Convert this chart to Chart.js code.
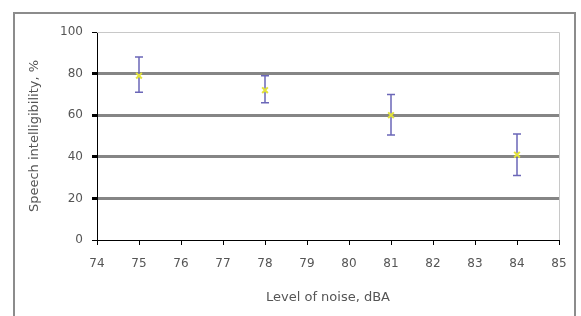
<!DOCTYPE html>
<html>
<head>
<meta charset="utf-8">
<script src="https://cdn.jsdelivr.net/npm/chart.js@4"></script>
<style>
  html, body { margin: 0; padding: 0; background: #fff; }
  #wrap { position: relative; width: 581px; height: 316px; overflow: hidden; }
  #frame { position: absolute; left: 13px; top: 12px; width: 559px; height: 330px; border: 2px solid #8c8c8c; pointer-events: none; }
</style>
</head>
<body>
<div id="wrap">
  <canvas id="c" width="581" height="316"></canvas>
  <div id="frame"></div>
</div>
<script>
const noiseLevels = [75, 78, 81, 84];
const intelligibility = [79, 72, 60, 41];
const errLow = [71, 66, 50.5, 31];
const errHigh = [88, 79, 70, 51];

const errorBars = {
  id: 'errorBars',
  beforeDatasetsDraw(chart) {
    const { ctx, scales: { x, y } } = chart;
    ctx.save();
    ctx.strokeStyle = '#6b67b8';
    ctx.lineWidth = 1.5;
    noiseLevels.forEach((lvl, i) => {
      const px = x.getPixelForValue(lvl);
      const top = y.getPixelForValue(errHigh[i]);
      const bot = y.getPixelForValue(errLow[i]);
      ctx.beginPath();
      ctx.moveTo(px, top); ctx.lineTo(px, bot);
      ctx.moveTo(px - 4, top); ctx.lineTo(px + 4, top);
      ctx.moveTo(px - 4, bot); ctx.lineTo(px + 4, bot);
      ctx.stroke();
    });
    ctx.restore();
  }
};

const plotBorder = {
  id: 'plotBorder',
  beforeDatasetsDraw(chart) {
    const { ctx, chartArea: a } = chart;
    ctx.save();
    ctx.strokeStyle = '#c8c8c8';
    ctx.lineWidth = 1;
    ctx.beginPath();
    ctx.moveTo(a.left, a.top + 0.5); ctx.lineTo(a.right + 0.5, a.top + 0.5);
    ctx.lineTo(a.right + 0.5, a.bottom);
    ctx.stroke();
    ctx.restore();
  }
};

const tickFont = { family: 'DejaVu Sans', size: 12 };
const titleFont = { family: 'DejaVu Sans', size: 13 };

new Chart(document.getElementById('c'), {
  type: 'scatter',
  data: {
    datasets: [{
      data: noiseLevels.map((v, i) => ({ x: v, y: intelligibility[i] })),
      pointStyle: 'crossRot',
      pointRadius: 4,
      borderWidth: 2,
      borderColor: '#e3e33a',
      backgroundColor: '#e3e33a',
    }]
  },
  options: {
    responsive: false,
    animation: false,
    layout: { padding: { left: 0, right: 22, top: 32, bottom: 0 } },
    plugins: { legend: { display: false }, tooltip: { enabled: false } },
    scales: {
      x: {
        type: 'linear',
        min: 74,
        max: 85,
        afterFit: s => { s.height = 76; },
        border: { color: '#000', width: 1 },
        grid: { drawOnChartArea: false, tickLength: 5, tickColor: '#000' },
        ticks: { stepSize: 1, padding: 12, color: '#555', font: tickFont },
        title: { display: true, text: 'Level of noise, dBA', color: '#555', padding: { top: 0, bottom: 11 }, font: titleFont },
      },
      y: {
        min: 0,
        max: 100,
        afterFit: s => { s.width = 97; },
        border: { color: '#000', width: 1 },
        grid: {
          tickLength: 5,
          tickColor: '#000',
          color: c => (c.tick.value === 0 || c.tick.value === 100) ? 'rgba(0,0,0,0)' : '#858585',
          lineWidth: c => (c.tick.value === 0 || c.tick.value === 100) ? 1 : 3,
        },
        ticks: { stepSize: 20, padding: 9, color: '#555', font: tickFont },
        title: { display: true, text: 'Speech intelligibility, %', color: '#555', padding: { top: 27, bottom: 0 }, font: titleFont },
      },
    },
  },
  plugins: [plotBorder, errorBars],
});
</script>
</body>
</html>
